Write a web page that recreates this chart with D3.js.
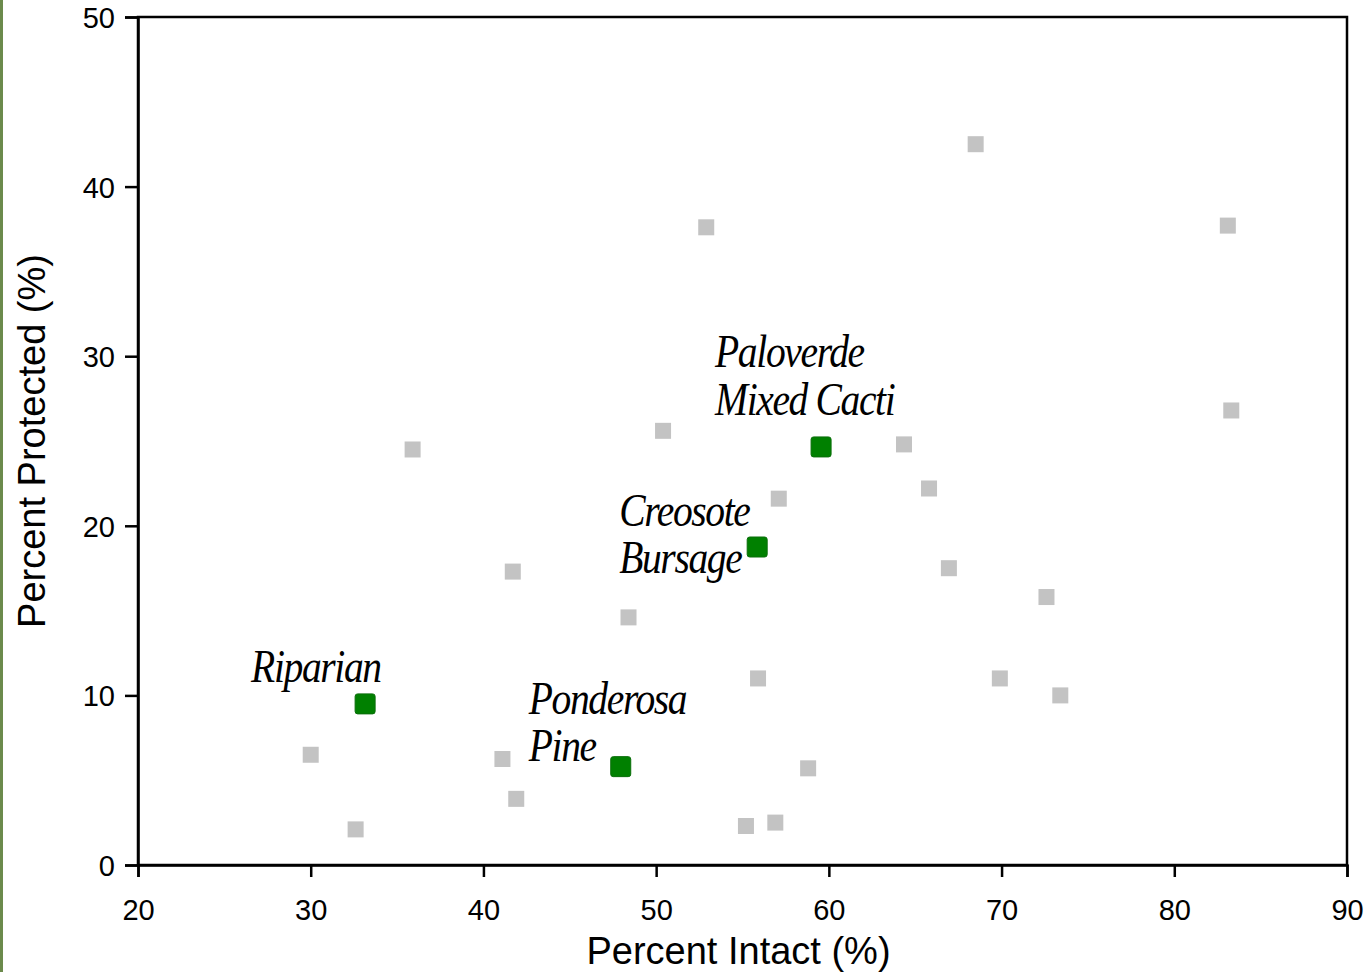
<!DOCTYPE html>
<html lang="en">
<head>
<meta charset="UTF-8">
<title>Percent Intact vs Percent Protected</title>
<style>
    body, html {
        margin: 0;
        padding: 0;
        background: #ffffff;
        overflow: hidden;
    }
    .axis text {
        font-family: 'Liberation Sans', Arial, sans-serif;
        font-size: 29px;
        fill: #000;
    }
    .axis-title {
        font-family: 'Liberation Sans', Arial, sans-serif;
        font-size: 38px;
        fill: #000;
    }
    .label {
        font-family: 'Liberation Serif', 'Times New Roman', serif;
        font-style: italic;
        font-size: 46px;
        letter-spacing: -1.6px;
        fill: #000;
    }
</style>
</head>
<body>
<svg id="chart" width="1367" height="972"></svg>
<script src="https://d3js.org/d3.v7.min.js"></script>
<script>
    // background points (x = percent intact, y = percent protected)
    const otherX = [68.5, 52.9, 83.1, 83.3, 35.9, 50.4, 64.35, 65.8, 57.1, 66.95, 41.7, 72.6,
                    48.4, 55.9, 69.9, 73.4, 30.0, 41.1, 58.8, 41.9, 32.6, 55.2, 56.9];
    const otherY = [42.5, 37.6, 37.7, 26.8, 24.5, 25.6, 24.8, 22.2, 21.6, 17.5, 17.3, 15.8,
                    14.6, 11.0, 11.0, 10.0, 6.5, 6.25, 5.7, 3.9, 2.1, 2.3, 2.5];

    // highlighted vegetation types
    const namedLabels = [["Paloverde", "Mixed Cacti"], ["Creosote", "Bursage"], ["Riparian"], ["Ponderosa", "Pine"]];
    const namedX = [59.55, 55.85, 33.15, 47.95];
    const namedY = [24.65, 18.75, 9.5, 5.8];

    const xTicks = [20, 30, 40, 50, 60, 70, 80, 90];
    const yTicks = [0, 10, 20, 30, 40, 50];

    // label placement relative to each green marker (px): left offset, first baseline, line gap
    const labelPos = [
        {dx: -106, dy: -80, gap: 48},
        {dx: -138, dy: -21, gap: 47},
        {dx: -114, dy: -22, gap: 0},
        {dx: -92, dy: -53, gap: 47}
    ];

    const svg = d3.select("#chart");
    const plotL = 138, plotR = 1347, plotT = 17, plotB = 865;

    const x = d3.scaleLinear().domain([20, 90]).range([plotL, plotR]);
    const y = d3.scaleLinear().domain([0, 50]).range([plotB, plotT]);

    // thin green strip on left edge of the slide
    svg.append("rect")
        .attr("x", 0).attr("y", 0)
        .attr("width", 3).attr("height", 972)
        .attr("fill", "#6b8a4c");

    // frame
    svg.append("rect")
        .attr("x", plotL).attr("y", plotT)
        .attr("width", plotR - plotL).attr("height", plotB - plotT)
        .attr("fill", "none")
        .attr("stroke", "#000")
        .attr("stroke-width", 2.5);

    const xAxis = svg.append("g")
        .attr("class", "axis")
        .attr("transform", `translate(0,${plotB})`)
        .call(d3.axisBottom(x).tickValues(xTicks).tickSize(12).tickPadding(22).tickFormat(d3.format("d")));

    const yAxis = svg.append("g")
        .attr("class", "axis")
        .attr("transform", `translate(${plotL},0)`)
        .call(d3.axisLeft(y).tickValues(yTicks).tickSize(13).tickPadding(10).tickFormat(d3.format("d")));

    [xAxis, yAxis].forEach(a => {
        a.select(".domain").attr("stroke-width", 2.5);
        a.selectAll(".tick line").attr("stroke-width", 2.5);
        a.attr("font-family", null).attr("font-size", null);
    });
    yAxis.selectAll(".tick text").attr("dy", "0.36em");

    // axis titles
    svg.append("text")
        .attr("class", "axis-title")
        .attr("x", (plotL + plotR) / 2 - 4)
        .attr("y", 964)
        .attr("text-anchor", "middle")
        .text("Percent Intact (%)");

    svg.append("text")
        .attr("class", "axis-title")
        .attr("transform", `translate(45,${(plotT + plotB) / 2}) rotate(-90)`)
        .attr("text-anchor", "middle")
        .text("Percent Protected (%)");

    // gray points
    const grey = otherX.map((v, i) => ({x: v, y: otherY[i]}));
    svg.append("g").selectAll("rect")
        .data(grey)
        .join("rect")
        .attr("x", d => x(d.x) - 8)
        .attr("y", d => y(d.y) - 8)
        .attr("width", 16)
        .attr("height", 16)
        .attr("fill", "#c3c3c3");

    // green highlighted points
    const named = namedX.map((v, i) => ({x: v, y: namedY[i], lines: namedLabels[i], pos: labelPos[i]}));
    svg.append("g").selectAll("rect")
        .data(named)
        .join("rect")
        .attr("x", d => x(d.x) - 10)
        .attr("y", d => y(d.y) - 10)
        .attr("width", 20)
        .attr("height", 20)
        .attr("rx", 2.5)
        .attr("fill", "#008000")
        .attr("stroke", "#0a6e0a")
        .attr("stroke-width", 1);

    // italic labels, horizontally squeezed like the original; one text per label, lines as tspans
    const labels = svg.append("g").selectAll("text")
        .data(named)
        .join("text")
        .attr("class", "label")
        .attr("transform", d => `translate(${x(d.x) + d.pos.dx},${y(d.y) + d.pos.dy}) scale(0.86,1)`);

    labels.each(function(d) {
        const t = d3.select(this);
        d.lines.forEach((line, i) => {
            t.append("tspan")
                .attr("x", 0)
                .attr("dy", i === 0 ? 0 : d.pos.gap)
                .text(line);
        });
    });
</script>
</body>
</html>
